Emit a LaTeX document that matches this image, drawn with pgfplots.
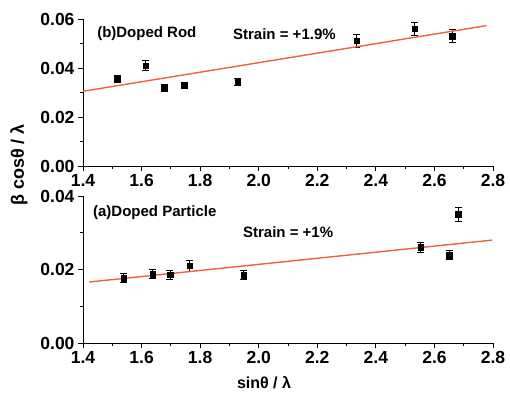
\documentclass[border=0pt]{standalone}
\usepackage{pgfplots}
\pgfplotsset{compat=1.18}
\usepackage{fontspec}
\setmainfont{Liberation Sans}
\definecolor{fitred}{HTML}{F2603F}
\begin{document}
\begin{tikzpicture}
\useasboundingbox (0pt,0pt) rectangle (510pt,393pt);
\pgfplotsset{
  every axis/.append style={
    scale only axis, width=410pt, height=147pt,
    anchor=south west,
    xmin=1.4, xmax=2.8,
    axis x line*=bottom, axis y line*=left,
    axis line style={-, line width=0.9pt},
    tick align=outside,
    major tick length=5pt, minor tick length=3pt,
    tick style={line width=0.8pt, black},
    xtick={1.4,1.6,...,2.8},
    minor x tick num=1, minor y tick num=1,
    /pgf/number format/assume math mode=true,
    tick label style={font=\bfseries\fontsize{17.5}{17.5}\selectfont},
    xticklabel style={/pgf/number format/.cd, fixed, fixed zerofill, precision=1},
    yticklabel style={/pgf/number format/.cd, fixed, fixed zerofill, precision=2},
    scaled y ticks=false,
    clip=false,
  }
}
% top panel (b)
\begin{axis}[at={(83pt,227pt)}, ymin=0, ymax=0.06, ytick={0,0.02,0.04,0.06}]
\addplot[black, only marks, mark=square*, mark size=2.8pt,
  error bars/.cd, y dir=both, y explicit,
  error bar style={line width=0.8pt}, error mark options={rotate=90, mark size=3.5pt, line width=0.8pt}]
  coordinates {
  (1.517,0.0356) +- (0,0.0015)
  (1.614,0.0409) +- (0,0.0020)
  (1.677,0.0320) +- (0,0.0014)
  (1.746,0.0329) +- (0,0.0014)
  (1.928,0.0342) +- (0,0.0014)
  (2.334,0.0511) +- (0,0.0026)
  (2.532,0.0560) +- (0,0.0027)
  (2.661,0.0531) +- (0,0.0026)
  };
\addplot[fitred, line width=1.4pt, no marks] coordinates {(1.4,0.0305) (2.778,0.0573)};
\node[anchor=west, inner sep=0, font=\bfseries\fontsize{15}{15}\selectfont] at (axis cs:1.448,0.0539) {(b)Doped Rod};
\node[anchor=west, inner sep=0, font=\bfseries\fontsize{15}{15}\selectfont] at (axis cs:1.912,0.0539) {Strain = +1.9\%};
\end{axis}
% bottom panel (a)
\begin{axis}[at={(83pt,50pt)}, ymin=0, ymax=0.04, ytick={0,0.02,0.04}]
\addplot[black, only marks, mark=square*, mark size=2.8pt,
  error bars/.cd, y dir=both, y explicit,
  error bar style={line width=0.8pt}, error mark options={rotate=90, mark size=3.5pt, line width=0.8pt}]
  coordinates {
  (1.539,0.0177) +- (0,0.0012)
  (1.638,0.0188) +- (0,0.0011)
  (1.697,0.0186) +- (0,0.0012)
  (1.765,0.0210) +- (0,0.0014)
  (1.949,0.0185) +- (0,0.0012)
  (2.553,0.0260) +- (0,0.0014)
  (2.650,0.0239) +- (0,0.0012)
  (2.681,0.0351) +- (0,0.0019)
  };
\addplot[fitred, line width=1.4pt, no marks] coordinates {(1.4216,0.0166) (2.797,0.0280)};
\node[anchor=west, inner sep=0, font=\bfseries\fontsize{15}{15}\selectfont] at (axis cs:1.434,0.0355) {(a)Doped Particle};
\node[anchor=west, inner sep=0, font=\bfseries\fontsize{15}{15}\selectfont] at (axis cs:1.946,0.0303) {Strain = +1\%};
\end{axis}
\node[rotate=90, font=\bfseries\fontsize{18}{18}\selectfont] at (19pt,228pt) {β cosθ / λ};
\node[font=\bfseries\fontsize{16}{16}\selectfont] at (264pt,10pt) {sinθ / λ};
\end{tikzpicture}
\end{document}
